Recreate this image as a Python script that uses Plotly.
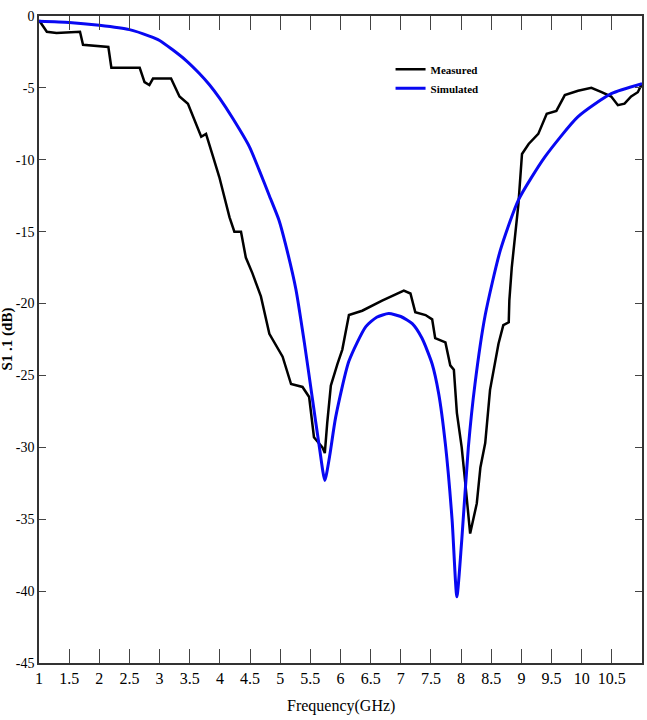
import plotly.graph_objects as go

# Measured S11 (black)
meas_freq = [1.00, 1.13, 1.29, 1.68, 1.73, 2.15, 2.20, 2.67, 2.75, 2.83,
             2.89, 3.19, 3.33, 3.47, 3.69, 3.77, 3.88, 3.99, 4.16, 4.24,
             4.35, 4.43, 4.54, 4.68, 4.82, 5.04, 5.18, 5.37, 5.48, 5.56,
             5.70, 5.74, 5.78, 5.84, 5.95, 6.03, 6.14, 6.36, 6.69, 6.91,
             7.05, 7.16, 7.24, 7.41, 7.52, 7.57, 7.74, 7.82, 7.88, 7.93,
             8.01, 8.07, 8.15, 8.26, 8.32, 8.40, 8.48, 8.62, 8.70, 8.79,
             8.80, 8.84, 8.90, 8.95, 9.01, 9.12, 9.28, 9.42, 9.58, 9.72,
             9.94, 10.16, 10.33, 10.49, 10.60, 10.71, 10.82, 10.93, 11.00]
meas_s11 = [-0.3, -1.1, -1.18, -1.1, -2.0, -2.15, -3.6, -3.6, -4.6, -4.8,
            -4.35, -4.35, -5.6, -6.1, -8.4, -8.2, -9.7, -11.2, -14.0, -15.0,
            -15.0, -16.8, -17.9, -19.5, -22.1, -23.7, -25.6, -25.8, -26.5, -29.3,
            -30.0, -30.4, -28.3, -25.7, -24.2, -23.2, -20.8, -20.5, -19.8, -19.4,
            -19.1, -19.3, -20.6, -20.8, -21.1, -22.4, -22.7, -24.3, -24.6, -27.6,
            -30.0, -32.5, -36.0, -33.9, -31.4, -29.7, -26.0, -22.8, -21.5, -21.3,
            -19.8, -17.5, -15.1, -13.1, -9.6, -8.9, -8.2, -6.8, -6.6, -5.5,
            -5.2, -5.0, -5.3, -5.6, -6.2, -6.1, -5.6, -5.3, -4.7]

# Simulated S11 (blue)
sim_freq = [1.0, 1.5, 2.0, 2.5, 2.83, 3.0, 3.2, 3.44, 3.66, 3.83,
            4.0, 4.21, 4.49, 4.65, 4.82, 4.98, 5.09, 5.26, 5.4, 5.53,
            5.65, 5.74, 5.82, 5.92, 6.14, 6.42, 6.6, 6.8, 7.0, 7.19,
            7.35, 7.52, 7.63, 7.74, 7.85, 7.93, 8.01, 8.12, 8.23, 8.40,
            8.65, 8.95, 9.39, 9.94, 10.49, 11.0]
sim_s11 = [-0.37, -0.45, -0.65, -0.95, -1.4, -1.7, -2.3, -3.1, -4.0, -4.8,
           -5.75, -7.1, -9.1, -10.7, -12.5, -14.2, -15.9, -19.0, -22.7, -26.5,
           -30.0, -32.3, -30.6, -27.9, -24.0, -21.6, -20.95, -20.7, -20.9, -21.4,
           -22.4, -24.2, -26.3, -29.8, -35.0, -40.4, -36.5, -30.0, -25.6, -20.8,
           -16.3, -12.8, -9.8, -7.0, -5.4, -4.7]

x_ticks = [1, 1.5, 2, 2.5, 3, 3.5, 4, 4.5, 5, 5.5, 6, 6.5, 7, 7.5, 8, 8.5, 9, 9.5, 10, 10.5, 11]
x_ticklabels = ["1", "1.5", "2", "2.5", "3", "3.5", "4", "4.5", "5", "5.5", "6",
                "6.5", "7", "7.5", "8", "8.5", "9", "9.5", "10", "10.5", "11"]
y_ticks = [0, -5, -10, -15, -20, -25, -30, -35, -40, -45]
y_ticklabels = ["0", "-5", "-10", "-15", "-20", "-25", "-30", "-35", "-40", "-45"]

fig = go.Figure()
fig.add_trace(go.Scatter(x=meas_freq, y=meas_s11, mode="lines", name="<b>Measured</b>",
                         line=dict(color="black", width=2.5)))
fig.add_trace(go.Scatter(x=sim_freq, y=sim_s11, mode="lines", name="<b>Simulated</b>",
                         line=dict(color="#0808f2", width=3, shape="spline", smoothing=0.6)))

fnt = "Liberation Serif, Times New Roman, serif"
fig.update_layout(
    width=647, height=720,
    margin=dict(l=39, r=3, t=16, b=57),
    paper_bgcolor="white", plot_bgcolor="white",
    font=dict(family=fnt, color="black"),
    legend=dict(x=0.583, y=0.94, xanchor="left", yanchor="top",
                bgcolor="rgba(0,0,0,0)", font=dict(family=fnt, size=11, color="black"),
                itemwidth=30, tracegroupgap=0),
    xaxis=dict(range=[1, 11], tickvals=x_ticks, ticktext=x_ticklabels,
               ticks="inside", ticklen=14, tickcolor="#444", showline=True,
               linecolor="#333", linewidth=1.5, mirror="ticks", showgrid=False,
               zeroline=False, tickfont=dict(family=fnt, size=16)),
    yaxis=dict(range=[-45, 0], tickvals=y_ticks, ticktext=y_ticklabels,
               ticks="inside", ticklen=7, tickcolor="#444", showline=True,
               linecolor="#333", linewidth=1.5, mirror="ticks", showgrid=False,
               zeroline=False, tickfont=dict(family=fnt, size=14)),
    annotations=[
        dict(text="Frequency(GHz)", xref="paper", yref="paper", x=0.5, y=-0.066,
             showarrow=False, font=dict(family=fnt, size=16), xanchor="center", yanchor="middle"),
        dict(text="<b>S1 .1 (dB)</b>", xref="paper", yref="paper", x=-0.053, y=0.5,
             showarrow=False, textangle=-90, font=dict(family=fnt, size=15),
             xanchor="center", yanchor="middle"),
    ],
)

fig.write_html("out.html")
